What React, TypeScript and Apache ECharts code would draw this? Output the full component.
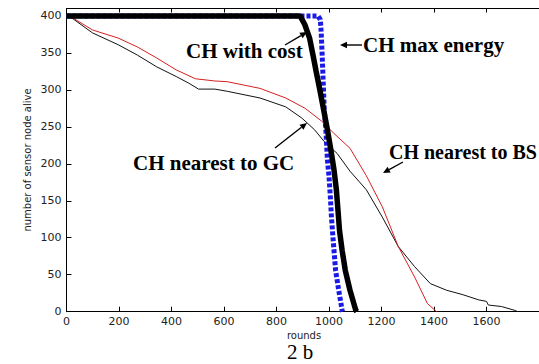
import React, { useEffect, useRef } from "react";
import * as echarts from "echarts";

// rounds vs. number of sensor nodes alive
const chNearestGC: [number, number][] = [
  [0, 400], [25, 396], [99, 377], [197, 361], [270, 347], [344, 331], [418, 318],
  [466, 309], [503, 301], [565, 301], [613, 298], [737, 289], [835, 277], [896, 262],
  [945, 246], [982, 230], [1031, 214], [1080, 190], [1142, 165], [1203, 128],
  [1264, 88], [1326, 61], [1386, 38], [1448, 29], [1510, 23], [1570, 16], [1600, 14],
  [1607, 9], [1657, 7], [1706, 2], [1720, 0],
];
const chNearestBS: [number, number][] = [
  [0, 400], [25, 397], [99, 381], [197, 370], [270, 358], [344, 343], [418, 327],
  [491, 315], [565, 312], [613, 311], [737, 302], [835, 289], [909, 275], [971, 258],
  [1019, 241], [1080, 221], [1142, 184], [1203, 142], [1264, 88], [1326, 47],
  [1375, 11], [1410, 0],
];
const chMaxEnergy: [number, number][] = [
  [0, 400], [958, 400], [967, 395], [970, 379], [974, 347], [979, 300], [982, 273],
  [988, 246], [994, 205], [1000, 183], [1005, 156], [1009, 130], [1013, 110],
  [1019, 83], [1025, 56], [1037, 29], [1050, 2], [1052, 0],
];
const chWithCost: [number, number][] = [
  [0, 400], [890, 400], [908, 388], [926, 370], [939, 347], [951, 325], [964, 302],
  [976, 280], [994, 246], [1007, 219], [1019, 192], [1028, 165], [1034, 138],
  [1040, 110], [1050, 83], [1062, 56], [1080, 29], [1102, 2], [1106, 0],
];

const xMin = 0;
const xMax = 1800;
const xInterval = 200;
const yMin = 0;
const yMax = 410;
const yInterval = 50;

const annotations = [
  { text: "CH with cost", x: 186, y: 51, size: 21 },
  { text: "CH max energy", x: 363, y: 45, size: 21 },
  { text: "CH nearest to GC", x: 133, y: 163, size: 21 },
  { text: "CH nearest to BS", x: 389, y: 152, size: 20 },
];
const arrows = [
  { from: [285, 45], to: [307, 32] },
  { from: [362, 45], to: [340, 45] },
  { from: [275, 148], to: [307, 123] },
  { from: [403, 162], to: [383, 173] },
];

function arrowGraphics(from: number[], to: number[]) {
  const dx = to[0] - from[0];
  const dy = to[1] - from[1];
  const len = Math.sqrt(dx * dx + dy * dy);
  const ux = dx / len;
  const uy = dy / len;
  const hl = 7;
  const hw = 3.2;
  const bx = to[0] - ux * hl;
  const by = to[1] - uy * hl;
  return [
    {
      type: "line",
      shape: { x1: from[0], y1: from[1], x2: bx, y2: by },
      style: { stroke: "#000", lineWidth: 1.4 },
      silent: true,
    },
    {
      type: "polygon",
      shape: {
        points: [
          [to[0], to[1]],
          [bx - uy * hw, by + ux * hw],
          [bx + uy * hw, by - ux * hw],
        ],
      },
      style: { fill: "#000" },
      silent: true,
    },
  ];
}

export default function App() {
  const ref = useRef<HTMLDivElement>(null);
  useEffect(() => {
    document.body.style.margin = "0";
    if (!ref.current) return;
    const chart = echarts.init(ref.current, undefined, { renderer: "svg" });
    const labelFont = "DejaVu Sans, sans-serif";
    const serif = "Liberation Serif, Times New Roman, serif";
    const graphics: any[] = [];
    annotations.forEach((a) => {
      graphics.push({
        type: "text",
        x: a.x,
        y: a.y,
        style: {
          text: a.text,
          fill: "#000",
          font: `bold ${a.size}px ${serif}`,
          align: "left",
          verticalAlign: "middle",
        },
        silent: true,
      });
    });
    arrows.forEach((a) => graphics.push(...arrowGraphics(a.from, a.to)));
    graphics.push({
      type: "text",
      x: 27,
      y: 160,
      rotation: Math.PI / 2,
      style: {
        text: "number of sensor node alive",
        fill: "#222",
        font: `10px ${labelFont}`,
        align: "center",
        verticalAlign: "middle",
      },
      silent: true,
    });
    graphics.push({
      type: "text",
      x: 304,
      y: 335,
      style: {
        text: "rounds",
        fill: "#222",
        font: `10px ${labelFont}`,
        align: "center",
        verticalAlign: "middle",
      },
      silent: true,
    });
    graphics.push({
      type: "text",
      x: 300,
      y: 352,
      style: {
        text: "2 b",
        fill: "#000",
        font: `21px ${serif}`,
        align: "center",
        verticalAlign: "middle",
      },
      silent: true,
    });

    const axisLine = { show: true, onZero: false, lineStyle: { color: "#000", width: 1 } };
    const plain = (v: number) => String(v);
    chart.setOption({
      animation: false,
      backgroundColor: "#fff",
      grid: { left: 66.5, top: 8.5, width: 489.6, height: 303.2, containLabel: false },
      xAxis: [
        {
          type: "value",
          min: xMin,
          max: xMax,
          interval: xInterval,
          axisLine,
          axisTick: { show: true, inside: true, length: 5, lineStyle: { color: "#000" } },
          axisLabel: {
            color: "#222",
            fontFamily: labelFont,
            fontSize: 11,
            margin: 4,
            showMaxLabel: false,
            formatter: plain,
          },
          splitLine: { show: false },
        },
        {
          type: "value",
          position: "top",
          min: xMin,
          max: xMax,
          interval: xInterval,
          axisLine,
          axisTick: { show: true, inside: true, length: 4, lineStyle: { color: "#000" } },
          axisLabel: { show: false },
          splitLine: { show: false },
        },
      ],
      yAxis: {
        type: "value",
        min: yMin,
        max: yMax,
        interval: yInterval,
        axisLine,
        axisTick: { show: true, inside: true, length: 5, lineStyle: { color: "#000" } },
        axisLabel: {
          color: "#222",
          fontFamily: labelFont,
          fontSize: 11,
          margin: 5,
          showMaxLabel: false,
          formatter: plain,
        },
        splitLine: { show: false },
      },
      series: [
        {
          name: "CH nearest to GC",
          type: "line",
          data: chNearestGC,
          showSymbol: false,
          lineStyle: { color: "#111", width: 1 },
          z: 2,
        },
        {
          name: "CH nearest to BS",
          type: "line",
          data: chNearestBS,
          showSymbol: false,
          lineStyle: { color: "#d42020", width: 1 },
          z: 3,
        },
        {
          name: "CH max energy",
          type: "line",
          data: chMaxEnergy,
          showSymbol: false,
          lineStyle: { color: "#1a1ae6", width: 5, type: [4, 2], cap: "butt" },
          z: 4,
        },
        {
          name: "CH with cost",
          type: "line",
          data: chWithCost,
          showSymbol: false,
          lineStyle: { color: "#000", width: 5.5 },
          z: 5,
        },
      ],
      graphic: graphics,
    });
    return () => chart.dispose();
  }, []);
  return <div ref={ref} style={{ width: 539, height: 364 }} />;
}
